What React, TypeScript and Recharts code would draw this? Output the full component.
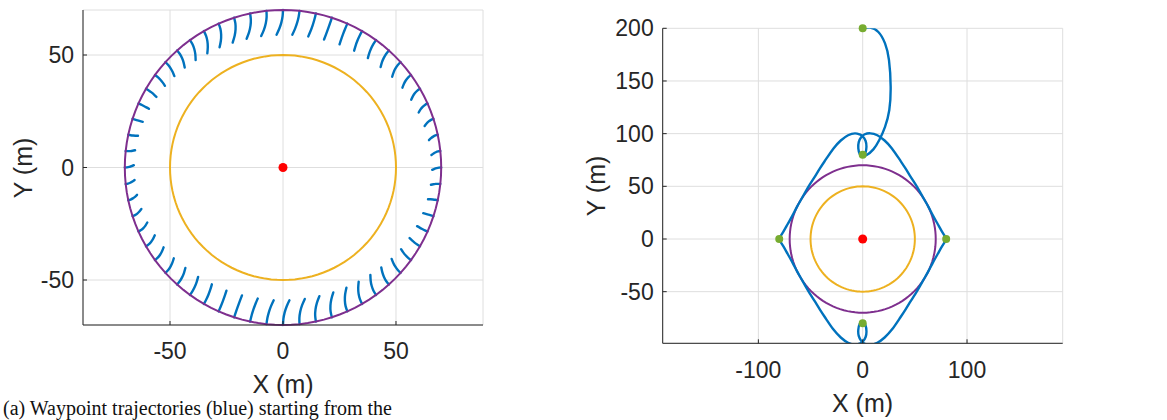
import { ComposedChart, Line, XAxis, YAxis, CartesianGrid } from 'recharts'

// ---- data ----
const leftXTicks = [-50, 0, 50]
const leftYTicks = [-50, 0, 50]
const rightXTicks = [-100, 0, 100]
const rightYTicks = [-50, 0, 50, 100, 150, 200]

const innerRadius = 50
const outerRadius = 70

// short blue trajectories ending on the outer circle (left panel)
const hookAngles = [
  0, 6, 12, 18, 24, 30, 36, 42, 48, 54, 60, 66, 72, 78, 84, 90, 96, 102, 108, 114,
  120, 126, 132, 138, 144, 150, 156, 162, 168, 174, 180, 186, 192, 198, 204, 210, 216, 222, 228, 234,
  240, 246, 252, 258, 264, 270, 276, 282, 288, 294, 300, 306, 312, 318, 324, 330, 336, 342, 348, 354,
]
const hookLengths = [
  4.0, 4.1, 4.3, 4.7, 5.2, 5.8, 6.4, 7.1, 7.9, 8.6, 9.3, 9.8, 10.3, 10.7, 10.9, 11.0, 10.9, 10.7, 10.3, 9.8,
  9.3, 8.6, 7.9, 7.1, 6.4, 5.8, 5.2, 4.7, 4.3, 4.1, 4.0, 4.1, 4.3, 4.7, 5.2, 5.8, 6.4, 7.1, 7.9, 8.6,
  9.3, 9.8, 10.3, 10.7, 10.9, 11.0, 10.9, 10.7, 10.3, 9.8, 9.3, 8.6, 7.9, 7.1, 6.4, 5.8, 5.2, 4.7, 4.3, 4.1,
]
const hookCurls = [
  -0.26, -0.32, -0.36, -0.39, -0.4, -0.39, -0.37, -0.33, -0.28, -0.21, -0.14, -0.06, 0.03, 0.11, 0.19, 0.26, 0.32, 0.36, 0.39, 0.4,
  0.39, 0.37, 0.33, 0.28, 0.21, 0.14, 0.06, -0.03, -0.11, -0.19,
  -0.26, -0.32, -0.36, -0.39, -0.4, -0.39, -0.37, -0.33, -0.28, -0.21, -0.14, -0.06, 0.03, 0.11, 0.19, 0.26, 0.32, 0.36, 0.39, 0.4,
  0.39, 0.37, 0.33, 0.28, 0.21, 0.14, 0.06, -0.03, -0.11, -0.19,
]

// right panel trajectories
const upperPath = [
  { x: -80.5, y: 0 }, { x: -76, y: 7 }, { x: -72, y: 14 }, { x: -67.5, y: 22 }, { x: -63, y: 30.5 },
  { x: -59, y: 37.5 }, { x: -55, y: 44.5 }, { x: -50.5, y: 52 }, { x: -46, y: 59 }, { x: -41, y: 67 },
  { x: -35, y: 76 }, { x: -28, y: 86 }, { x: -21, y: 93.5 }, { x: -14, y: 98.5 }, { x: -7.4, y: 100.3 },
  { x: -3, y: 99.3 }, { x: 0, y: 97.5 }, { x: 2.8, y: 93 }, { x: 3.6, y: 87.5 }, { x: 2.6, y: 81.5 },
  { x: 0, y: 78.5 }, { x: -2.8, y: 80.5 }, { x: -4.2, y: 86 }, { x: -3.8, y: 92 }, { x: -1.5, y: 96.5 },
  { x: 2, y: 99.4 }, { x: 7.4, y: 100.3 }, { x: 14, y: 98.5 }, { x: 21, y: 93.5 }, { x: 28, y: 86 },
  { x: 35, y: 76 }, { x: 41, y: 67 }, { x: 46, y: 59 }, { x: 50.5, y: 52 }, { x: 55, y: 44.5 },
  { x: 59, y: 37.5 }, { x: 63, y: 30.5 }, { x: 67.5, y: 22 }, { x: 72, y: 14 }, { x: 76, y: 7 },
  { x: 80.5, y: 0 },
]
const lowerPath = [
  { x: -80.5, y: 0 }, { x: -76, y: -7 }, { x: -72, y: -14 }, { x: -67.5, y: -22 }, { x: -63, y: -30.5 },
  { x: -59, y: -37.5 }, { x: -55, y: -44.5 }, { x: -50.5, y: -52 }, { x: -46, y: -59 }, { x: -41, y: -67 },
  { x: -35, y: -76 }, { x: -28, y: -86 }, { x: -21, y: -93.5 }, { x: -14, y: -98.5 }, { x: -7.4, y: -100.3 },
  { x: -3, y: -99.3 }, { x: 0, y: -97.5 }, { x: 2.8, y: -93 }, { x: 3.6, y: -87.5 }, { x: 2.6, y: -81.5 },
  { x: 0, y: -78.5 }, { x: -2.8, y: -80.5 }, { x: -4.2, y: -86 }, { x: -3.8, y: -92 }, { x: -1.5, y: -96.5 },
  { x: 2, y: -99.4 }, { x: 7.4, y: -100.3 }, { x: 14, y: -98.5 }, { x: 21, y: -93.5 }, { x: 28, y: -86 },
  { x: 35, y: -76 }, { x: 41, y: -67 }, { x: 46, y: -59 }, { x: 50.5, y: -52 }, { x: 55, y: -44.5 },
  { x: 59, y: -37.5 }, { x: 63, y: -30.5 }, { x: 67.5, y: -22 }, { x: 72, y: -14 }, { x: 76, y: -7 },
  { x: 80.5, y: 0 },
]
const tailPath = [
  { x: 0, y: 200 }, { x: 7, y: 200.6 }, { x: 15, y: 196.5 }, { x: 21.4, y: 185.7 }, { x: 25.2, y: 169.8 },
  { x: 26.8, y: 144.5 }, { x: 25.5, y: 122.4 }, { x: 21.4, y: 106.5 }, { x: 15.9, y: 93.9 },
  { x: 10.2, y: 85.1 }, { x: 3.8, y: 79.7 }, { x: 0, y: 78.5 },
]
const startPoints = [
  { x: 0, y: 200 }, { x: 0, y: 80 }, { x: -80, y: 0 }, { x: 80, y: 0 }, { x: 0, y: -80 },
]
const centerPoint = [{ x: 0, y: 0 }]

// ---- styling ----
const FONT = '"Liberation Sans", Arial, Helvetica, sans-serif'
const INK = '#262626'
const GRID = '#dedede'
const BLUE = '#0072BD'
const GOLD = '#EDB120'
const PURPLE = '#7E2F8E'
const GREEN = '#77AC30'
const RED = '#FF0000'

function circlePoints(r: number) {
  return Array.from({ length: 121 }, (_, i) => {
    const a = (i / 120) * 2 * Math.PI
    return { x: Math.round(r * Math.cos(a) * 1e4) / 1e4, y: Math.round(r * Math.sin(a) * 1e4) / 1e4 }
  })
}

function hookPoints(deg: number, len: number, curl: number) {
  const a = (deg * Math.PI) / 180
  const nx = -Math.cos(a), ny = -Math.sin(a)
  const tx = -Math.sin(a), ty = Math.cos(a)
  const x0 = outerRadius * Math.cos(a), y0 = outerRadius * Math.sin(a)
  return [0, 0.25, 0.5, 0.75, 1].map(s => ({
    x: x0 + s * len * nx + s * s * curl * len * tx,
    y: y0 + s * len * ny + s * s * curl * len * ty,
  }))
}

const tickStyle = { fill: INK, fontSize: 23, fontFamily: FONT }

function AxisTitle({ text, cx, cy, rotate }: { text: string; cx: number; cy: number; rotate?: boolean }) {
  return (
    <div
      style={{
        position: 'absolute', left: cx, top: cy, whiteSpace: 'nowrap', lineHeight: 1,
        fontFamily: FONT, fontSize: 25, color: INK,
        transform: `translate(-50%, -50%)${rotate ? ' rotate(-90deg)' : ''}`,
      }}
    >
      {text}
    </div>
  )
}

function LeftPanel() {
  return (
    <div style={{ position: 'absolute', left: 0, top: 0 }}>
      <ComposedChart width={500} height={420} margin={{ top: 10, right: 17, bottom: 65, left: 23 }}>
        <CartesianGrid stroke={GRID} />
        <XAxis type="number" dataKey="x" domain={[-88.5, 88.5]} ticks={leftXTicks} interval={0}
          tickSize={-4} tickMargin={22} height={30} axisLine={{ stroke: INK }} tickLine={{ stroke: INK }} tick={tickStyle} />
        <YAxis type="number" dataKey="y" domain={[-70, 70]} ticks={leftYTicks} interval={0}
          tickSize={-4} tickMargin={13} width={60} axisLine={{ stroke: INK }} tickLine={{ stroke: INK }} tick={tickStyle} />
        {hookAngles.map((deg, i) => (
          <Line key={deg} data={hookPoints(deg, hookLengths[i], hookCurls[i])} dataKey="y" type="natural"
            stroke={BLUE} strokeWidth={2.4} strokeLinecap="round" dot={false} isAnimationActive={false} />
        ))}
        <Line data={circlePoints(innerRadius)} dataKey="y" type="linear" stroke={GOLD} strokeWidth={2} dot={false} isAnimationActive={false} />
        <Line data={circlePoints(outerRadius)} dataKey="y" type="linear" stroke={PURPLE} strokeWidth={2} dot={false} isAnimationActive={false} />
        <Line data={centerPoint} dataKey="y" stroke="none" dot={{ r: 4.5, fill: RED, stroke: 'none' }} isAnimationActive={false} />
      </ComposedChart>
      <AxisTitle text="X (m)" cx={283} cy={384} />
      <AxisTitle text="Y (m)" cx={22.5} cy={168} rotate />
    </div>
  )
}

function RightPanel() {
  return (
    <div style={{ position: 'absolute', left: 560, top: 0 }}>
      <ComposedChart width={607} height={420} margin={{ top: 28.3, right: 104.3, bottom: 46.7, left: 42.7 }}>
        <CartesianGrid stroke={GRID} />
        <XAxis type="number" dataKey="x" domain={[-191.7, 191.7]} ticks={rightXTicks} interval={0} allowDataOverflow
          tickSize={-4} tickMargin={22} height={30} axisLine={{ stroke: INK }} tickLine={{ stroke: INK }} tick={tickStyle} />
        <YAxis type="number" dataKey="y" domain={[-99, 200]} ticks={rightYTicks} interval={0} allowDataOverflow
          tickSize={-4} tickMargin={13} width={60} axisLine={{ stroke: INK }} tickLine={{ stroke: INK }} tick={tickStyle} />
        <Line data={circlePoints(innerRadius)} dataKey="y" type="linear" stroke={GOLD} strokeWidth={2} dot={false} isAnimationActive={false} />
        <Line data={circlePoints(outerRadius)} dataKey="y" type="linear" stroke={PURPLE} strokeWidth={2} dot={false} isAnimationActive={false} />
        <Line data={upperPath} dataKey="y" type="natural" stroke={BLUE} strokeWidth={2.4} dot={false} isAnimationActive={false} />
        <Line data={lowerPath} dataKey="y" type="natural" stroke={BLUE} strokeWidth={2.4} dot={false} isAnimationActive={false} />
        <Line data={tailPath} dataKey="y" type="natural" stroke={BLUE} strokeWidth={2.4} dot={false} isAnimationActive={false} />
        <Line data={startPoints} dataKey="y" stroke="none" dot={{ r: 4, fill: GREEN, stroke: 'none', clipDot: false }} isAnimationActive={false} />
        <Line data={centerPoint} dataKey="y" stroke="none" dot={{ r: 4.5, fill: RED, stroke: 'none', clipDot: false }} isAnimationActive={false} />
      </ComposedChart>
      <AxisTitle text="X (m)" cx={302.5} cy={403} />
      <AxisTitle text="Y (m)" cx={36} cy={186} rotate />
    </div>
  )
}

export default function App() {
  return (
    <div style={{ position: 'absolute', left: 0, top: 0, width: 1167, height: 420, overflow: 'hidden', background: '#fff' }}>
      <LeftPanel />
      <RightPanel />
      <div style={{ position: 'absolute', left: 3, top: 398, whiteSpace: 'nowrap', lineHeight: 1,
        fontFamily: '"Liberation Serif", "Times New Roman", serif', fontSize: 20, color: '#111' }}>
        (a) Waypoint trajectories (blue) starting from the
      </div>
    </div>
  )
}
